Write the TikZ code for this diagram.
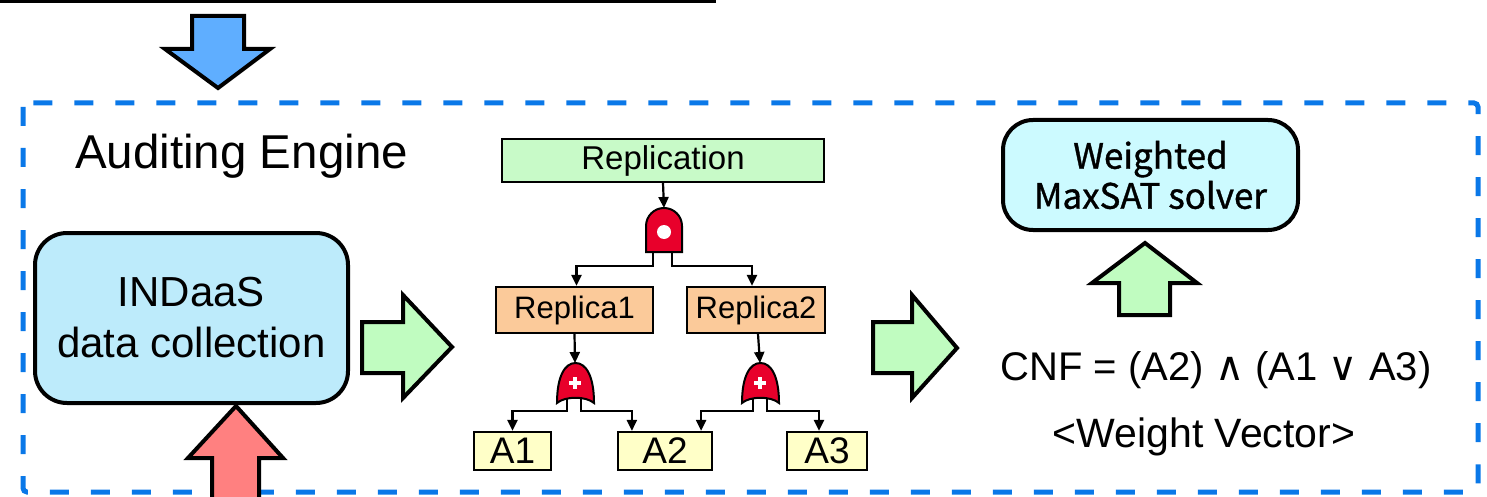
\documentclass[tikz,border=0pt]{standalone}
\usepackage{fontspec}
\setmainfont{Liberation Sans}
\newfontfamily\krfont[FakeBold=1]{Noto Sans CJK KR}
\newfontfamily\symfont{DejaVu Sans}
\usetikzlibrary{arrows.meta,calc}
\definecolor{borderblue}{RGB}{10,120,232}
\definecolor{arrowblue}{RGB}{95,174,255}
\definecolor{arrowred}{RGB}{255,128,128}
\definecolor{arrowgreen}{RGB}{192,252,192}
\definecolor{indaasfill}{RGB}{189,235,251}
\definecolor{solverfill}{RGB}{204,250,255}
\definecolor{replfill}{RGB}{200,250,200}
\definecolor{replicafill}{RGB}{251,202,154}
\definecolor{afill}{RGB}{255,255,200}
\definecolor{gatered}{RGB}{232,0,43}
\tikzset{
  bigbox/.style={draw=black, line width=4, rounded corners=32, inner sep=0pt},
  treebox/.style={draw=black, line width=2.2, inner sep=0pt},
  blockarrow/.style={draw=black, line width=4, line join=miter},
  gate/.style={draw=black, line width=2, fill=gatered},
  conn/.style={line width=2.2, -{Triangle[length=11,width=10]}},
  leg/.style={line width=2.2},
}
\begin{document}
\begin{tikzpicture}[x=1pt,y=-1pt]
\useasboundingbox (0,0) rectangle (1487,497);
% top line
\coordinate (tl0) at (0,1.5);
\coordinate (tl1) at (716,1.5);
\draw[line width=2.5] (tl0) -- (tl1);
% dashed border
\draw[draw=borderblue, line width=5, dash pattern=on 19 off 22, rounded corners=4] (23,103) rectangle (1478,492);
% blue down arrow
\draw[blockarrow, fill=arrowblue] (192,16) -- (244,16) -- (244,49) -- (270,49) -- (218,88) -- (165,49) -- (192,49) -- cycle;
% title
\node[anchor=base west, inner sep=0pt, font=\fontsize{47.5}{57}\selectfont] (title) at (75,169) {Auditing Engine};
% INDaaS box
\node[bigbox, fill=indaasfill, minimum width=313, minimum height=170, align=center,
      font=\fontsize{42}{51}\selectfont] (indaas) at (191.5,318) {INDaaS\\data collection};
% red up arrow
\draw[blockarrow, fill=arrowred] (212,520) -- (212,458) -- (188,458) -- (236,406) -- (283,458) -- (259,458) -- (259,520) -- cycle;
% green right arrows
\draw[blockarrow, fill=arrowgreen] (362,322) -- (403,322) -- (403,295) -- (452,347) -- (403,398) -- (403,373) -- (362,373) -- cycle;
\draw[blockarrow, fill=arrowgreen] (873,322) -- (912,322) -- (912,295) -- (957,348) -- (912,398) -- (912,373) -- (873,373) -- cycle;
% green up arrow
\draw[blockarrow, fill=arrowgreen] (1119,315) -- (1119,283) -- (1092,283) -- (1145,243) -- (1197,283) -- (1170,283) -- (1170,315) -- cycle;
% solver box
\node[bigbox, rounded corners=30, fill=solverfill, minimum width=295, minimum height=110, align=center,
      font=\krfont\fontsize{35}{40}\selectfont] (solver) at (1150.5,175) {Weighted\\MaxSAT solver};
% CNF text
\node[anchor=base, inner sep=0pt, font=\fontsize{40}{48}\selectfont] (cnf) at (1216,380)
  {CNF = (A2) {\symfont\fontsize{40}{40}\selectfont ∧} (A1 {\symfont\fontsize{40}{40}\selectfont ∨} A3)};
\node[anchor=base, inner sep=0pt, font=\fontsize{41}{48}\selectfont] (wv) at (1204,447) {<Weight Vector>};
% fault tree boxes
\node[treebox, fill=replfill, minimum width=322, minimum height=43, font=\fontsize{33}{36}\selectfont] (repl) at (663,160.5) {Replication};
\node[treebox, fill=replicafill, minimum width=157, minimum height=46, font=\fontsize{31}{36}\selectfont] (r1) at (574.5,310) {Replica1};
\node[treebox, fill=replicafill, minimum width=138, minimum height=46, font=\fontsize{31}{36}\selectfont] (r2) at (756,310) {Replica2};
\node[treebox, fill=afill, minimum width=77, minimum height=38, font=\fontsize{37}{40}\selectfont] (a1) at (512.5,451) {A1};
\node[treebox, fill=afill, minimum width=94, minimum height=38, font=\fontsize{37}{40}\selectfont] (a2) at (665,451) {A2};
\node[treebox, fill=afill, minimum width=80, minimum height=38, font=\fontsize{37}{40}\selectfont] (a3) at (827,451) {A3};
% AND gate
\coordinate (andtop) at (664,208);
\coordinate (andl) at (653,252);
\coordinate (andr) at (672,252);
\draw[gate] (646,252) -- (646,226) arc[start angle=180,end angle=360,radius=18] -- (682,252) -- cycle;
\fill[white] (664,232) circle[radius=7];
% OR gates
\draw[gate] (557,403) .. controls (557,376) and (565,363) .. (575.5,363) .. controls (586,363) and (594,376) .. (594,403)
  .. controls (586,396) and (565,396) .. cycle;
\fill[white] (569,381) rectangle (581,385);
\fill[white] (573,377) rectangle (577,389);
\coordinate (or1top) at (575,363);
\coordinate (or1l) at (567,399);
\coordinate (or1r) at (581,399);
\draw[gate] (742,403) .. controls (742,376) and (750,363) .. (760.5,363) .. controls (771,363) and (779,376) .. (779,403)
  .. controls (771,396) and (750,396) .. cycle;
\fill[white] (754,381) rectangle (766,385);
\fill[white] (758,377) rectangle (762,389);
\coordinate (or2top) at (760,363);
\coordinate (or2l) at (753,399);
\coordinate (or2r) at (767,399);
% connectors
\draw[conn] (repl.south) -- (andtop);
\draw[conn] (andl) -- ++(0,14) -| ($(r1.north)+(2,0)$);
\draw[conn] (andr) -- ++(0,14) -| ($(r2.north)+(-4,0)$);
\draw[conn] (r1.south) -- (or1top);
\draw[conn] ($(r2.south)+(2,0)$) -- (or2top);
\draw[conn] (or1l) -- ++(0,12) -| (a1.north);
\draw[conn] (or1r) -- ++(0,12) -| ($(a2.north west)+(15,0)$);
\draw[conn] (or2l) -- ++(0,12) -| ($(a2.north east)+(-12,0)$);
\draw[conn] (or2r) -- ++(0,12) -| ($(a3.north)+(-8,0)$);
\end{tikzpicture}
\end{document}
